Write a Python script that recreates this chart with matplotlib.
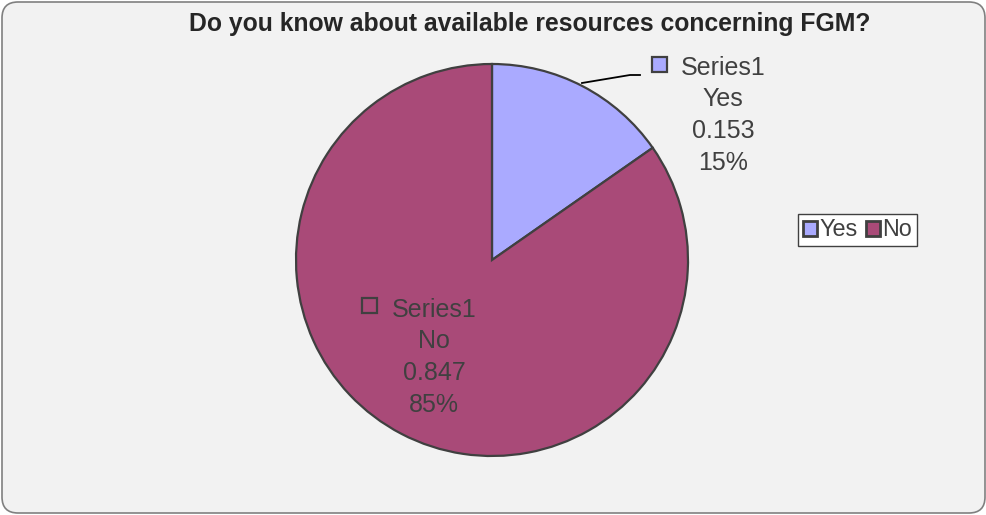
import matplotlib.pyplot as plt
from matplotlib.patches import FancyBboxPatch, Rectangle

plt.rcParams["font.family"] = ["Liberation Sans", "DejaVu Sans"]

# chart data
title = "Do you know about available resources concerning FGM?"
series_name = "Series1"
categories = ["Yes", "No"]
values = [0.153, 0.847]
percent_labels = ["15%", "85%"]
colors = ["#aaaaff", "#a94a78"]

W, H = 987, 515
TEXT = "#404040"

fig = plt.figure(figsize=(W / 100, H / 100), dpi=100, facecolor="white")
ax = fig.add_axes([0, 0, 1, 1])

# outer rounded chart area
ax.add_patch(FancyBboxPatch((2, 2), W - 4, H - 4,
                            boxstyle="round,pad=0,rounding_size=16",
                            facecolor="#f2f2f2", edgecolor="#808080", lw=1.2))

wedges, _ = ax.pie(values, colors=colors, startangle=90, counterclock=False,
                   center=(492, H - 260), radius=196,
                   wedgeprops=dict(edgecolor="#404040", linewidth=1.6))

ax.set_xlim(0, W)
ax.set_ylim(0, H)
ax.set_aspect("equal")
ax.axis("off")

ax.text(530, H - 31, title, ha="center", va="baseline", fontsize=17.8,
        fontweight="bold", color="#262626")

# data labels: (line centre x, first line centre y, square x, square y) in pixels
label_pos = [(723, 68, 652, 57), (434, 310, 362, 298)]
for i, (cat, val, pct) in enumerate(zip(categories, values, percent_labels)):
    cx, cy, sx, sy = label_pos[i]
    lines = [series_name, cat, f"{val:.3f}", pct]
    for j, line in enumerate(lines):
        ax.text(cx, H - (cy + j * 31.5), line, ha="center", va="center",
                fontsize=18, color=TEXT)
    ax.add_patch(Rectangle((sx, H - sy - 15), 15, 15, facecolor=colors[i],
                           edgecolor="#404040", lw=1.6, zorder=5))

# leader line for the Yes label
ax.plot([582, 630, 640], [H - 83, H - 75, H - 75], color="black", lw=1.3)

leg = ax.legend(wedges, categories, ncol=2, loc="center",
                bbox_to_anchor=(857.5 / W, 1 - 230 / H), fontsize=16.8,
                frameon=True, fancybox=False, edgecolor="#404040",
                facecolor="white", framealpha=1, borderpad=0.2,
                handlelength=0.6, handleheight=0.6, handletextpad=0.1,
                columnspacing=0.35, borderaxespad=0)
for t in leg.get_texts():
    t.set_color(TEXT)
for h in leg.legend_handles:
    h.set_linewidth(2.0)
leg.get_frame().set_linewidth(1.0)

fig.savefig("out.png", dpi=100, facecolor="white")
